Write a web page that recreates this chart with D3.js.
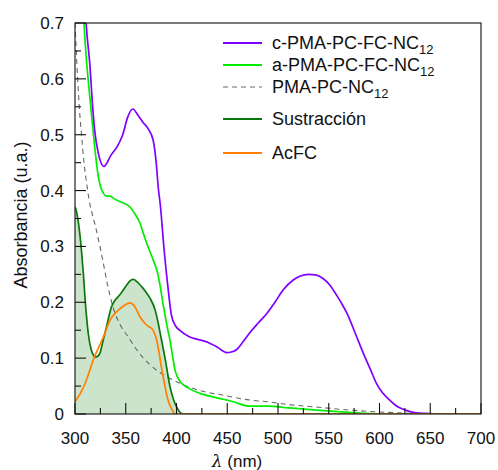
<!DOCTYPE html>
<html><head><meta charset="utf-8">
<script src="https://cdn.jsdelivr.net/npm/d3@7"></script>
<style>body{margin:0;background:#fff}svg{display:block}text{font-family:"Liberation Sans",Arial,sans-serif;fill:#111}</style>
</head><body>
<svg id="c" width="498" height="470"></svg>
<script>
// wavelength (nm), absorbance (u.a.)
const cPMA = [[300,1.3],[305,1.0],[308,0.82],[311,0.70],[314.8,0.622],[317,0.56],[319.7,0.503],[323,0.467],[326,0.448],[328.5,0.443],[331,0.448],[335,0.462],[342,0.48],[347,0.50],[352,0.532],[357,0.546],[362,0.535],[367,0.522],[372,0.511],[377,0.49],[380,0.45],[382,0.406],[384,0.375],[388,0.29],[392,0.22],[395,0.177],[399,0.158],[403,0.150],[413,0.138],[420,0.134],[430,0.129],[440,0.12],[449.5,0.110],[454,0.111],[459,0.115],[465,0.128],[472,0.145],[480,0.162],[489,0.18],[497,0.200],[505,0.222],[515,0.240],[522,0.247],[530,0.250],[537,0.249],[544,0.243],[551,0.231],[558,0.212],[563,0.197],[568,0.18],[576,0.145],[584,0.109],[591,0.080],[597,0.055],[603,0.038],[610,0.025],[618,0.013],[627,0.006],[636,0.002],[646,0.001],[660,0.0],[700,0.0]];
const aPMA = [[300,1.2],[305,0.95],[307,0.78],[308.9,0.70],[311,0.64],[313,0.598],[315.5,0.55],[318,0.503],[320.5,0.46],[323,0.425],[325.5,0.405],[328,0.395],[331,0.39],[334.5,0.39],[338,0.386],[341,0.383],[347,0.378],[354,0.371],[359,0.358],[364,0.342],[367,0.325],[370.6,0.306],[374,0.29],[377,0.276],[381,0.255],[384,0.228],[386.5,0.2],[389,0.174],[391.5,0.15],[393.6,0.132],[396,0.105],[398.5,0.079],[401,0.066],[405,0.055],[413,0.045],[423,0.037],[440,0.029],[456,0.022],[472,0.014],[490,0.014],[510,0.011],[538,0.007],[570,0.003],[600,0.0],[700,0.0]];
const pmaPC = [[300,0.70],[302.3,0.61],[304.2,0.55],[306.6,0.496],[308.9,0.449],[311.5,0.413],[314,0.382],[317,0.358],[320,0.337],[324,0.305],[327.9,0.27],[332,0.232],[337.7,0.19],[345,0.158],[352.5,0.138],[360.8,0.115],[373.9,0.088],[390.3,0.067],[403.4,0.055],[423,0.042],[445,0.034],[472,0.025],[489,0.022],[510,0.017],[540,0.012],[571,0.007],[595,0.004],[620,0.002],[650,0.0],[700,0.0]];
const sustr = [[300,0.371],[301.5,0.362],[303,0.347],[305,0.318],[306.6,0.288],[308.5,0.245],[310,0.204],[311.5,0.172],[313,0.145],[316,0.115],[318,0.106],[320,0.102],[322,0.103],[324.6,0.109],[327.5,0.13],[331,0.156],[336,0.192],[340,0.205],[344,0.213],[351,0.231],[354,0.238],[357.5,0.241],[361,0.237],[365.7,0.228],[370,0.218],[374,0.207],[379,0.186],[381.5,0.167],[384,0.144],[389,0.097],[393.6,0.049],[396,0.032],[398.5,0.019],[403,0.004],[407,0.0],[700,0.0]];
const acfc = [[300,0.022],[305,0.036],[310,0.055],[314,0.075],[318,0.097],[323,0.118],[328,0.138],[334.5,0.168],[341,0.183],[347.6,0.193],[351,0.197],[354,0.199],[356.5,0.197],[359,0.192],[364,0.174],[369,0.162],[372,0.157],[375.6,0.153],[378,0.146],[380.5,0.132],[383,0.108],[385,0.085],[388,0.056],[390,0.037],[392.5,0.02],[395,0.010],[398.5,0.0],[700,0.0]];
const xTicks = [300,350,400,450,500,550,600,650,700];
const yTicks = [0,0.1,0.2,0.3,0.4,0.5,0.6,0.7];
const legendItems = [
  {name:"c-PMA-PC-FC-NC", sub:"12", color:"#8000ff", dash:null},
  {name:"a-PMA-PC-FC-NC", sub:"12", color:"#00ee00", dash:null},
  {name:"PMA-PC-NC", sub:"12", color:"#666", dash:"5,4"},
  {name:"Sustracción", sub:"", color:"#0a780a", dash:null},
  {name:"AcFC", sub:"", color:"#ff8000", dash:null}
];

const svg = d3.select("#c");
const L=75, R=481, T=23, B=414;
const x = d3.scaleLinear().domain([300,700]).range([L,R]);
const y = d3.scaleLinear().domain([0,0.7]).range([B,T]);

svg.append("clipPath").attr("id","clip").append("rect").attr("x",L).attr("y",T).attr("width",R-L).attr("height",B-T);
const g = svg.append("g").attr("clip-path","url(#clip)");

const area = d3.area().x(d=>x(d[0])).y0(y(0)).y1(d=>y(d[1])).curve(d3.curveMonotoneX);
g.append("path").datum(sustr).attr("d",area).attr("fill","#cde4cc");

const line = d3.line().x(d=>x(d[0])).y(d=>y(d[1])).curve(d3.curveMonotoneX);
const series = [[pmaPC,legendItems[2]],[aPMA,legendItems[1]],[cPMA,legendItems[0]],[sustr,legendItems[3]],[acfc,legendItems[4]]];
series.forEach(([data,it])=>{
  g.append("path").datum(data).attr("d",line).attr("fill","none")
   .attr("stroke",it.color).attr("stroke-width",it.dash?1.1:1.7)
   .attr("stroke-dasharray",it.dash);
});

// frame
svg.append("rect").attr("x",L).attr("y",T).attr("width",R-L).attr("height",B-T)
  .attr("fill","none").attr("stroke","#222").attr("stroke-width",1.2);

// ticks (inward)
const xMinor = d3.range(325,700,50);
const yMinor = d3.range(0.05,0.7,0.1);
const tk = svg.append("g").attr("stroke","#111").attr("stroke-width",1.1);
xTicks.forEach(v=>tk.append("line").attr("x1",x(v)).attr("x2",x(v)).attr("y1",B).attr("y2",B-11));
xMinor.forEach(v=>tk.append("line").attr("x1",x(v)).attr("x2",x(v)).attr("y1",B).attr("y2",B-6));
yTicks.forEach(v=>tk.append("line").attr("x1",L).attr("x2",L+11).attr("y1",y(v)).attr("y2",y(v)));
yMinor.forEach(v=>tk.append("line").attr("x1",L).attr("x2",L+6).attr("y1",y(v)).attr("y2",y(v)));

const fs = 17;
xTicks.forEach(v=>svg.append("text").attr("x",x(v)).attr("y",444).attr("text-anchor","middle").attr("font-size",fs).text(v));
yTicks.forEach(v=>svg.append("text").attr("x",64).attr("y",y(v)+6).attr("text-anchor","end").attr("font-size",fs).text(v===0?"0":d3.format(".1f")(v)));

const xl = svg.append("text").attr("x",237).attr("y",467).attr("text-anchor","middle").attr("font-size",fs);
xl.append("tspan").attr("font-style","italic").attr("font-family","'DejaVu Serif',serif").text("λ");
xl.append("tspan").text(" (nm)");
svg.append("text").attr("transform","translate(27,215) rotate(-90)").attr("text-anchor","middle").attr("font-size",18).text("Absorbancia (u.a.)");

// legend
const ly = [43,65,87,119,153];
legendItems.forEach((it,i)=>{
  svg.append("line").attr("x1",223).attr("x2",262).attr("y1",ly[i]).attr("y2",ly[i])
    .attr("stroke",it.color).attr("stroke-width",it.dash?1.2:2).attr("stroke-dasharray",it.dash);
  const t = svg.append("text").attr("x",272).attr("y",ly[i]+6).attr("font-size",18);
  t.append("tspan").text(it.name);
  if(it.sub) t.append("tspan").attr("font-size",13).attr("dy",5).text(it.sub);
});
</script>
</body></html>
